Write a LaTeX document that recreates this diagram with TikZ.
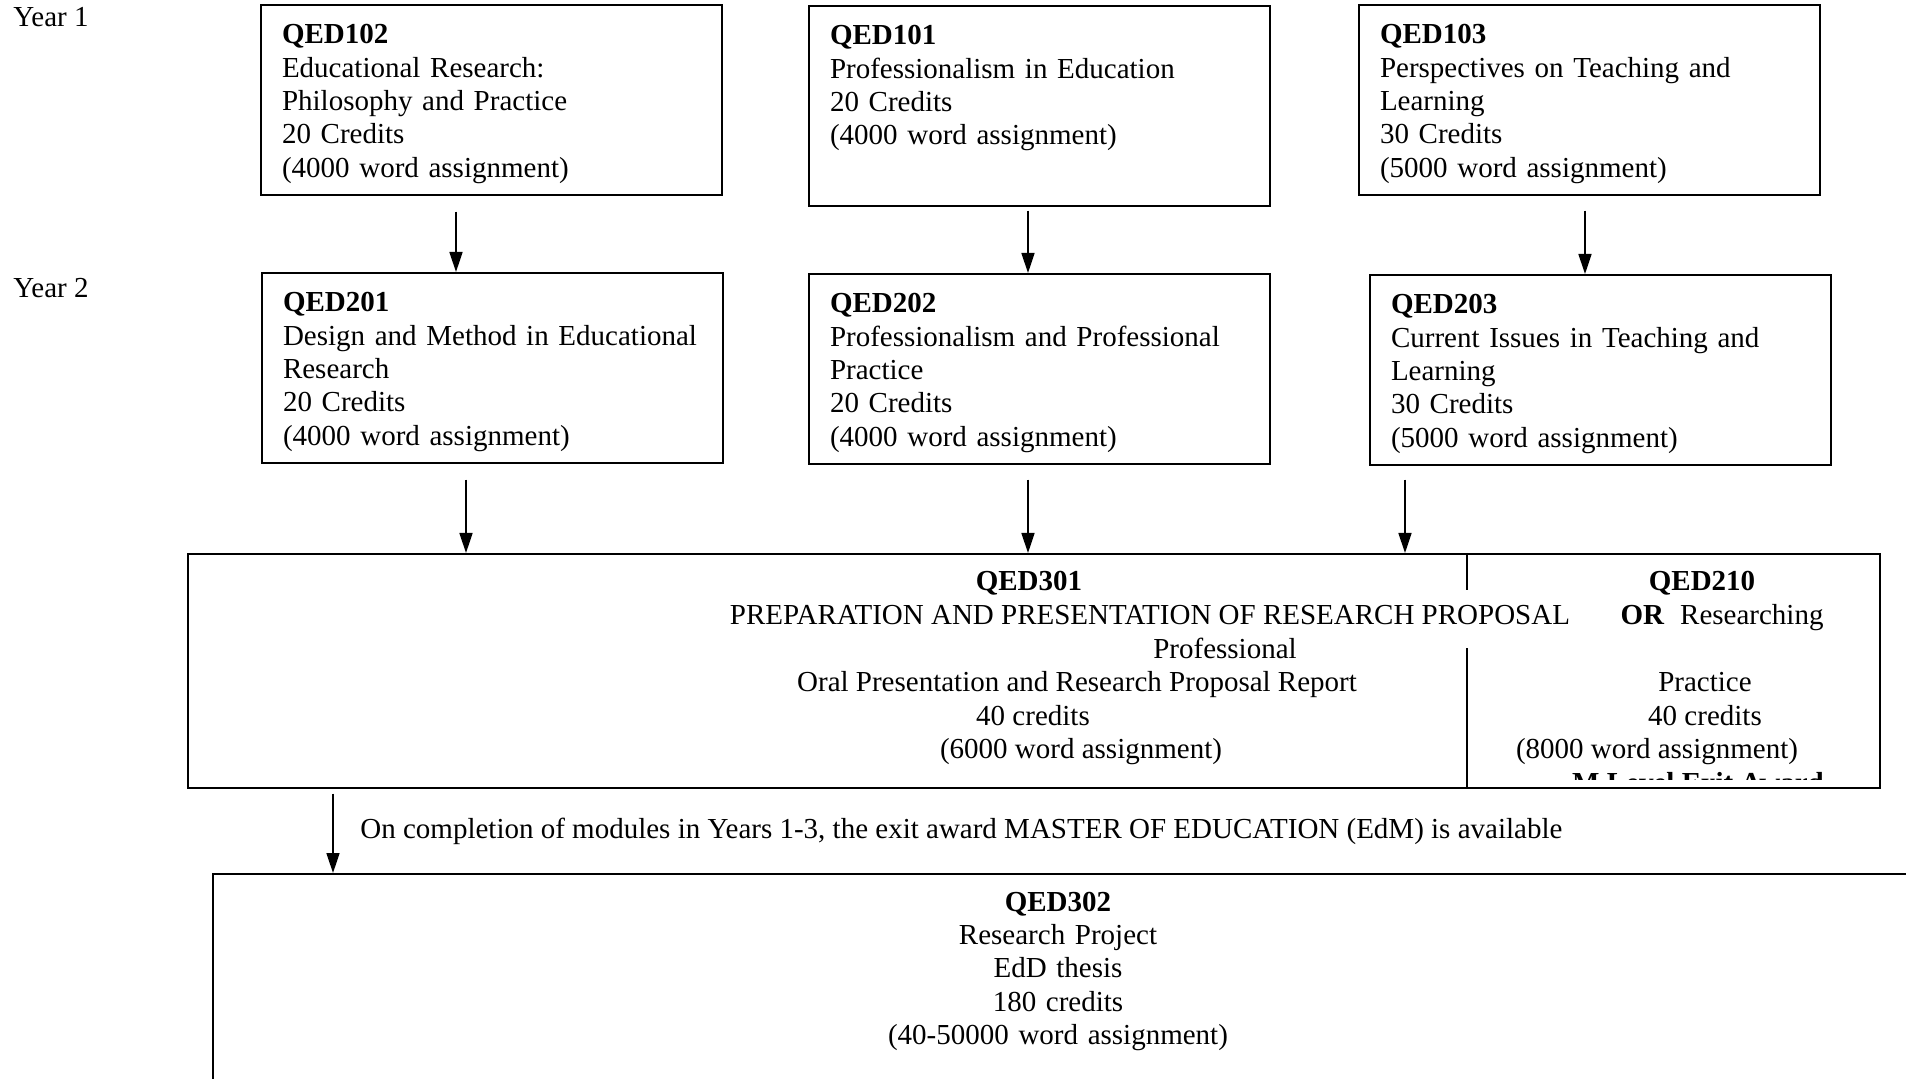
\documentclass[tikz,border=0pt]{standalone}
\usepackage{fontspec}
\setmainfont{Liberation Serif}
\usetikzlibrary{calc,arrows.meta}

\begin{document}
\begin{tikzpicture}[x=0.5pt,y=-0.5pt,
  every node/.style={font=\fontsize{14.5}{16.7}\selectfont},
  module/.style={draw,line width=1pt,anchor=north west,text width=209.5pt,
    inner xsep=10.5pt,inner ysep=0pt,align=left,text height=19.35pt,text depth=#1},
  module/.default=75.5pt,
  panel/.style={draw,line width=1pt,anchor=north west,inner sep=0pt},
  txt/.style={anchor=base,inner sep=0pt},
  flow/.style={-{Triangle[length=10pt,width=6.5pt]},line width=0.8pt}]
\clip (0,0) rectangle (1906,1079);
%\draw[help lines,step=100] (0,0) grid (1906,1079);
\node[txt,anchor=base west] (y1) at (13,27) {Year 1};
\node[txt,anchor=base west] (y2) at (13,298) {Year 2};
\node[module] (q102) at (260,4) {\textbf{QED102}\\Educational Research:\\Philosophy and Practice\\20 Credits\\(4000 word assignment)};
\node[module=80.5pt] (q101) at (808,5) {\textbf{QED101}\\Professionalism in Education\\20 Credits\\(4000 word assignment)};
\node[module] (q103) at (1358,4) {\textbf{QED103}\\Perspectives on Teaching and\\Learning\\30 Credits\\(5000 word assignment)};
\node[module] (q201) at (261,272) {\textbf{QED201}\\Design and Method in Educational\\Research\\20 Credits\\(4000 word assignment)};
\node[module] (q202) at (808,273) {\textbf{QED202}\\Professionalism and Professional\\Practice\\20 Credits\\(4000 word assignment)};
\node[module] (q203) at (1369,274) {\textbf{QED203}\\Current Issues in Teaching and\\Learning\\30 Credits\\(5000 word assignment)};
\draw[flow] ($(q102.south west)+(196,16)$) -- ($(q201.north west)+(195,0)$);
\draw[flow] ($(q101.south west)+(220,4)$) -- ($(q202.north west)+(220,0)$);
\draw[flow] ($(q103.south west)+(227,15)$) -- ($(q203.north west)+(216,0)$);
\node[panel,minimum width=846pt,minimum height=117pt] (q301) at (187,553) {};
\draw[line width=1pt] (1467,553) -- (1467,590) (1467,648) -- (1467,787);
\node[txt] (t301a) at (1029,591) {\textbf{QED301}};
\node[txt] (t301b) at (1150,624.5) {PREPARATION AND PRESENTATION OF RESEARCH PROPOSAL};
\node[txt] (t301c) at (1225,658) {Professional};
\node[txt] (t301d) at (1077,691.5) {Oral Presentation and Research Proposal Report};
\node[txt] (t301e) at (1033,725) {40 credits};
\node[txt] (t301f) at (1081,758.5) {(6000 word assignment)};
\node[txt] (t210a) at (1702,591) {\textbf{QED210}};
\node[txt] (t210b) at (1722,624.5) {\textbf{OR}\hspace{0.55em}Researching};
\node[txt] (t210c) at (1705,691.5) {Practice};
\node[txt] (t210d) at (1705,725) {40 credits};
\node[txt] (t210e) at (1657,758.5) {(8000 word assignment)};
\begin{scope}
\clip (1467,553) rectangle (1878,779);
\node[txt] (t210f) at (1698,792) {\textbf{M Level Exit Award}};
\end{scope}
\draw[flow] ($(q201.south west)+(205,16)$) -- ($(q301.north west)+(279,0)$);
\draw[flow] ($(q202.south west)+(220,15)$) -- ($(q301.north west)+(841,0)$);
\draw[flow] ($(q203.south west)+(36,14)$) -- ($(q301.north west)+(1218,0)$);
\node[txt,anchor=base west] (exit) at (360,838) {On completion of modules in Years 1-3, the exit award MASTER OF EDUCATION (EdM) is available};
\node[panel,minimum width=860pt,minimum height=110pt] (q302) at (212,873) {};
\node[txt,text width=300pt,align=center] (t302) at (1058,911) {\textbf{QED302}\\Research Project\\EdD thesis\\180 credits\\(40-50000 word assignment)};
\draw[flow] ($(q301.south west)+(146,4.5)$) -- ($(q302.north west)+(121,0)$);
\end{tikzpicture}
\end{document}
